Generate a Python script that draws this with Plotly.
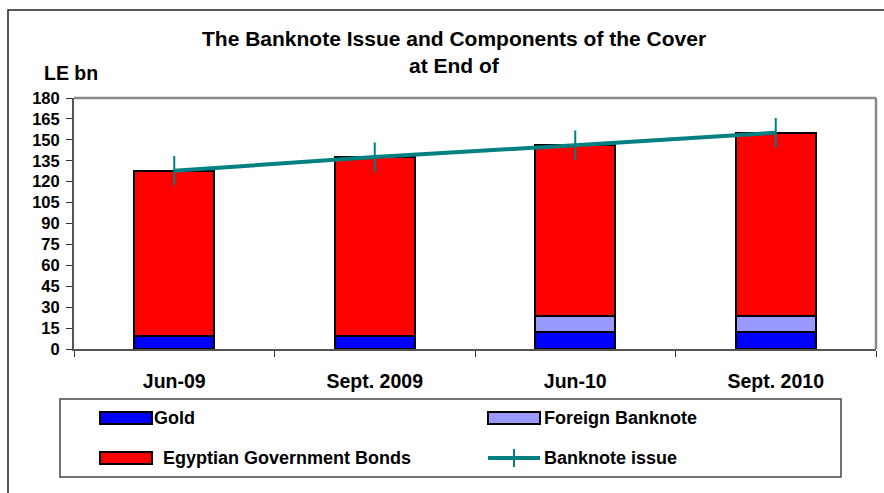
import plotly.graph_objects as go

# Banknote issue and its cover components, LE bn
periods = ["Jun-09", "Sept. 2009", "Jun-10", "Sept. 2010"]
gold = [9.3, 9.3, 12.0, 12.3]
foreign_banknote = [0.0, 0.0, 11.7, 11.6]
gov_bonds = [118.6, 128.3, 122.5, 131.2]
banknote_issue = [127.9, 137.6, 146.2, 155.1]
y_ticks = list(range(0, 181, 15))

W, H = 884, 493
L, R, T, B = 74, 876, 98, 349  # plot-area pixel edges

FONT = "Arial, Liberation Sans, sans-serif"
TEAL = "#008080"
BLUE = "#0000FF"
LILAC = "#9999FF"
RED = "#FF0000"


def px(x):
    return (x - L) / (R - L)


def py(y):
    return (B - y) / (B - T)


fig = go.Figure()
for name, vals, col in [("Gold", gold, BLUE),
                        ("Foreign Banknote", foreign_banknote, LILAC),
                        ("Egyptian Government Bonds", gov_bonds, RED)]:
    fig.add_trace(go.Bar(x=periods, y=vals, name=name, width=0.4,
                         marker=dict(color=col, line=dict(color="black", width=2))))

fig.add_trace(go.Scatter(x=periods, y=banknote_issue, name="Banknote issue",
                         mode="lines+markers",
                         line=dict(color=TEAL, width=4),
                         marker=dict(symbol="line-ns", size=21,
                                     line=dict(color=TEAL, width=2))))

shapes = []
# outer chart frame (runs off the right and bottom edges)
shapes.append(dict(type="rect", xref="paper", yref="paper",
                   x0=px(8), x1=px(900), y0=py(510), y1=py(10),
                   line=dict(color="#222222", width=1.5)))
# plot-area border: grey top and right
shapes.append(dict(type="line", xref="paper", yref="paper",
                   x0=0, x1=1, y0=1, y1=1, line=dict(color="#888888", width=2.5)))
shapes.append(dict(type="line", xref="paper", yref="paper",
                   x0=1, x1=1, y0=0, y1=1, line=dict(color="#888888", width=2.5)))
# legend box
shapes.append(dict(type="rect", xref="paper", yref="paper",
                   x0=px(60), x1=px(841), y0=py(477), y1=py(399),
                   line=dict(color="#444444", width=1.5)))

annotations = [
    dict(text="<b>The Banknote Issue and Components of the Cover</b>",
         xref="paper", yref="paper", x=px(454), y=py(38), showarrow=False,
         xanchor="center", yanchor="middle",
         font=dict(size=21, color="black", family=FONT)),
    dict(text="<b>at End of</b>",
         xref="paper", yref="paper", x=px(454), y=py(66), showarrow=False,
         xanchor="center", yanchor="middle",
         font=dict(size=21, color="black", family=FONT)),
    dict(text="<b>LE bn</b>",
         xref="paper", yref="paper", x=px(42), y=py(73), xanchor="left",
         yanchor="middle", showarrow=False,
         font=dict(size=19.5, color="black", family=FONT)),
]

# legend entries
legend_items = [
    ("Gold", BLUE, 100, 418, 152, "bar"),
    ("Foreign Banknote", LILAC, 488, 418, 542, "bar"),
    ("Egyptian Government Bonds", RED, 100, 458, 161, "bar"),
    ("Banknote issue", TEAL, 488, 458, 542, "line"),
]
for label, col, sx, sy, tx, kind in legend_items:
    if kind == "bar":
        shapes.append(dict(type="rect", xref="paper", yref="paper",
                           x0=px(sx), x1=px(sx + 52), y0=py(sy + 6), y1=py(sy - 6),
                           fillcolor=col, line=dict(color="black", width=2)))
    else:
        shapes.append(dict(type="line", xref="paper", yref="paper",
                           x0=px(sx), x1=px(sx + 52), y0=py(sy), y1=py(sy),
                           line=dict(color=col, width=4)))
        shapes.append(dict(type="line", xref="paper", yref="paper",
                           x0=px(sx + 26), x1=px(sx + 26), y0=py(sy + 9), y1=py(sy - 9),
                           line=dict(color=col, width=2)))
    annotations.append(dict(text=f"<b>{label}</b>", xref="paper", yref="paper",
                            x=px(tx), y=py(sy), xanchor="left", yanchor="middle",
                            showarrow=False,
                            font=dict(size=18, color="black", family=FONT)))

fig.update_layout(
    width=W, height=H,
    margin=dict(l=L, r=W - R, t=T, b=H - B, pad=0),
    paper_bgcolor="white", plot_bgcolor="white",
    barmode="stack", bargap=0.6,
    showlegend=False,
    font=dict(family=FONT, color="black"),
    shapes=shapes, annotations=annotations,
)
fig.update_xaxes(type="category", tickson="boundaries", ticks="outside", ticklen=6,
                 tickcolor="#333333", showline=True, linecolor="#555555", linewidth=2,
                 showgrid=False, tickfont=dict(size=19.5, family=FONT, weight="bold"),
                 ticklabelstandoff=14)
fig.update_yaxes(range=[0, 180], tickvals=y_ticks, ticks="outside", ticklen=6,
                 tickcolor="#333333", showline=True, linecolor="#555555", linewidth=2,
                 showgrid=False, zeroline=False, ticklabelstandoff=3,
                 tickfont=dict(size=16.5, family=FONT, weight="bold"))

fig.write_html("out.html")
